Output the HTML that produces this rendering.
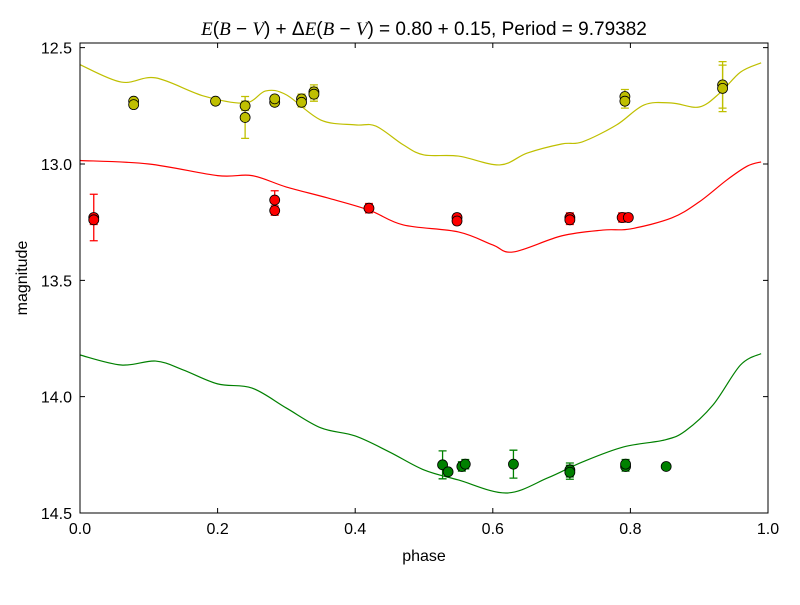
<!DOCTYPE html>
<html><head><meta charset="utf-8"><style>
body{margin:0;background:#fff;font-family:"Liberation Sans",sans-serif}
svg text{font-family:"Liberation Sans",sans-serif}
</style></head><body>
<svg id="chart" width="800" height="600" viewBox="0 0 800 600">
<rect width="800" height="600" fill="#fff"/>
<text x="424" y="35" text-anchor="middle" font-size="19"><tspan font-family="Liberation Serif" font-style="italic">E</tspan>(<tspan font-family="Liberation Serif" font-style="italic">B</tspan> − <tspan font-family="Liberation Serif" font-style="italic">V</tspan>) + Δ<tspan font-family="Liberation Serif" font-style="italic">E</tspan>(<tspan font-family="Liberation Serif" font-style="italic">B</tspan> − <tspan font-family="Liberation Serif" font-style="italic">V</tspan>) = 0.80 + 0.15, Period = 9.79382</text>
<g id="plot"></g>
<text x="424" y="561" text-anchor="middle" font-size="16">phase</text>
<text transform="translate(27,278) rotate(-90)" text-anchor="middle" font-size="16">magnitude</text>
</svg>
<script>
const xTicks=[0,0.2,0.4,0.6,0.8,1.0];
const xTickLabels=["0.0","0.2","0.4","0.6","0.8","1.0"];
const yTicks=[12.5,13.0,13.5,14.0,14.5];
const yTickLabels=["12.5","13.0","13.5","14.0","14.5"];
const yPhase=[0.078,0.078,0.197,0.240,0.240,0.283,0.283,0.322,0.322,0.340,0.340,0.792,0.792,0.934,0.934];
const yMag=[12.73,12.745,12.73,12.75,12.80,12.735,12.72,12.72,12.735,12.69,12.70,12.71,12.73,12.66,12.675];
const yErr=[0.01,0.01,0.01,0.02,0.09,0.01,0.01,0.02,0.02,0.03,0.03,0.03,0.03,0.1,0.1];
const rPhase=[0.02,0.02,0.283,0.283,0.42,0.548,0.548,0.712,0.712,0.788,0.797];
const rMag=[13.23,13.24,13.155,13.20,13.19,13.23,13.245,13.23,13.24,13.23,13.23];
const rErr=[0.1,0.02,0.04,0.02,0.02,0.015,0.015,0.02,0.02,0.02,0.01];
const gPhase=[0.527,0.535,0.555,0.56,0.63,0.712,0.712,0.793,0.793,0.852];
const gMag=[14.293,14.323,14.30,14.29,14.29,14.315,14.325,14.30,14.29,14.30];
const gErr=[0.06,0.01,0.02,0.02,0.06,0.03,0.03,0.02,0.02,0.01];
const yCurvePhase=[0,0.06,0.11,0.18,0.24,0.27,0.3,0.35,0.4,0.43,0.47,0.5,0.55,0.61,0.65,0.7,0.73,0.78,0.82,0.86,0.9,0.93,0.96,0.99];
const yCurveMag=[12.573,12.648,12.63,12.708,12.738,12.686,12.703,12.811,12.832,12.837,12.918,12.961,12.966,13.004,12.953,12.914,12.905,12.832,12.746,12.738,12.755,12.695,12.605,12.565];
const rCurvePhase=[0,0.1,0.2,0.25,0.3,0.36,0.42,0.47,0.55,0.6,0.63,0.7,0.76,0.8,0.86,0.9,0.94,0.97,0.99];
const rCurveMag=[12.985,13.0,13.05,13.05,13.099,13.146,13.198,13.262,13.292,13.348,13.378,13.309,13.284,13.279,13.232,13.163,13.069,13.009,12.991];
const gCurvePhase=[0,0.06,0.11,0.15,0.2,0.25,0.3,0.35,0.4,0.45,0.5,0.55,0.62,0.68,0.73,0.79,0.85,0.88,0.92,0.96,0.99];
const gCurveMag=[13.821,13.864,13.847,13.885,13.945,13.963,14.049,14.134,14.169,14.238,14.315,14.358,14.414,14.349,14.281,14.216,14.186,14.147,14.036,13.864,13.815];

const L=80,R=768,T=43,B=513,yMin=12.48,yMax=14.50;
const sx=p=>L+(R-L)*p;
const sy=m=>T+(B-T)*(m-yMin)/(yMax-yMin);
const NS="http://www.w3.org/2000/svg";
const g=document.getElementById('plot');
function mk(tag,attrs,parent){const e=document.createElementNS(NS,tag);for(const k in attrs)e.setAttribute(k,attrs[k]);(parent||g).appendChild(e);return e;}

function curve(ph,mg,color,name){
  const pts=ph.map((p,i)=>[sx(p),sy(mg[i])]);
  let d="M"+pts[0][0]+","+pts[0][1];
  for(let i=0;i<pts.length-1;i++){
    const p0=pts[Math.max(0,i-1)],p1=pts[i],p2=pts[i+1],p3=pts[Math.min(pts.length-1,i+2)];
    const c1=[p1[0]+(p2[0]-p0[0])/6,p1[1]+(p2[1]-p0[1])/6];
    const c2=[p2[0]-(p3[0]-p1[0])/6,p2[1]-(p3[1]-p1[1])/6];
    d+=" C"+c1[0]+","+c1[1]+" "+c2[0]+","+c2[1]+" "+p2[0]+","+p2[1];
  }
  const e=mk('path',{d:d,fill:'none',stroke:color,'stroke-width':1.2});
  
  
}
function points(ph,mg,er,color,name){
  ph.forEach((p,i)=>{
    const x=sx(p),y1=sy(mg[i]-er[i]),y2=sy(mg[i]+er[i]);
    const eb=mk('path',{d:`M${x},${y1}V${y2}M${x-4},${y1}H${x+4}M${x-4},${y2}H${x+4}`,stroke:color,'stroke-width':1.3,fill:'none'});
    
    
  });
  ph.forEach((p,i)=>{
    const c=mk('circle',{cx:sx(p),cy:sy(mg[i]),r:5,fill:color,stroke:'#000','stroke-width':0.8});
    
    
  });
}
curve(yCurvePhase,yCurveMag,'#bfbf00','yellow-model-curve');
curve(rCurvePhase,rCurveMag,'#ff0000','red-model-curve');
curve(gCurvePhase,gCurveMag,'#008000','green-model-curve');
points(yPhase,yMag,yErr,'#bfbf00','yellow');
points(rPhase,rMag,rErr,'#ff0000','red');
points(gPhase,gMag,gErr,'#008000','green');

const frame=mk('rect',{x:L,y:T,width:R-L,height:B-T,fill:'none',stroke:'#000','stroke-width':1});


xTicks.forEach((v,i)=>{
  const x=sx(v);
  mk('path',{d:`M${x},${B}v-5M${x},${T}v5`,stroke:'#000'});
  const t=mk('text',{x:x,y:B+21,'text-anchor':'middle','font-size':16});
  t.textContent=xTickLabels[i];
  
  
});
yTicks.forEach((v,i)=>{
  const y=sy(v);
  mk('path',{d:`M${L},${y}h5M${R},${y}h-5`,stroke:'#000'});
  const t=mk('text',{x:L-8,y:y+6,'text-anchor':'end','font-size':16});
  t.textContent=yTickLabels[i];
  
  
});
</script>
</body></html>
